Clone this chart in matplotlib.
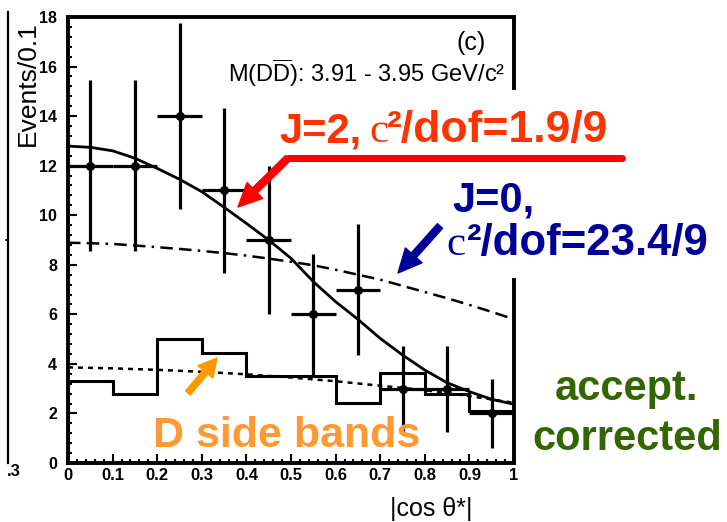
import numpy as np
import matplotlib
matplotlib.use("Agg")
import matplotlib.pyplot as plt
from matplotlib.ticker import MultipleLocator
from matplotlib.lines import Line2D

plt.rcParams['font.family'] = ['Liberation Sans', 'DejaVu Sans']
plt.rcParams['mathtext.fontset'] = 'custom'
plt.rcParams['mathtext.rm'] = 'Liberation Sans'
plt.rcParams['mathtext.it'] = 'Liberation Sans:italic'
plt.rcParams['mathtext.bf'] = 'Liberation Sans:bold'

# data
bin_centers = [0.05, 0.15, 0.25, 0.35, 0.45, 0.55, 0.65, 0.75, 0.85, 0.95]
bin_half = [0.05] * 10
events = [12, 12, 14, 11, 9, 6, 7, 3, 3, 2]
event_err = [3.46, 3.46, 3.74, 3.32, 3.0, 2.45, 2.65, 1.73, 1.73, 1.41]

bin_edges = [0, 0.1, 0.2, 0.3, 0.4, 0.5, 0.6, 0.7, 0.8, 0.9, 1.0]
sideband = [3.3, 2.77, 5.0, 4.43, 3.5, 3.5, 2.43, 3.62, 2.8, 2.1]

curve_x = [0, 0.05, 0.1, 0.15, 0.2, 0.25, 0.3, 0.35, 0.4, 0.45, 0.5,
           0.55, 0.6, 0.65, 0.7, 0.75, 0.8, 0.85, 0.9, 0.95, 1.0]
fit_j2 = [12.79, 12.74, 12.6, 12.3, 11.89, 11.45, 10.95, 10.32, 9.67, 9.0, 8.26,
          7.32, 6.51, 5.8, 5.03, 4.36, 3.75, 3.24, 2.88, 2.57, 2.37]
fit_j0 = [8.89, 8.87, 8.84, 8.78, 8.71, 8.64, 8.56, 8.47, 8.37, 8.25, 8.12,
          7.98, 7.8, 7.6, 7.4, 7.15, 6.9, 6.65, 6.38, 6.1, 5.8]
bg_x = [0, 0.1, 0.2, 0.3, 0.4, 0.5, 0.6, 0.7, 0.8, 0.9, 1.0]
fit_bg = [3.86, 3.82, 3.76, 3.68, 3.58, 3.45, 3.3, 3.12, 2.94, 2.7, 2.43]

x_ticks = [0, 0.1, 0.2, 0.3, 0.4, 0.5, 0.6, 0.7, 0.8, 0.9, 1.0]
x_ticklabels = ['0', '0.1', '0.2', '0.3', '0.4', '0.5', '0.6', '0.7', '0.8', '0.9', '1']
y_ticks = [0, 2, 4, 6, 8, 10, 12, 14, 16, 18]

W, H = 727, 522


def fx(x):
    return x / W


def fy(y):
    return 1 - y / H


fig = plt.figure(figsize=(W / 100, H / 100), dpi=100)
ax = fig.add_axes([fx(68), fy(463), 446 / W, 446 / H])

ax.stairs(sideband, bin_edges, color='black', lw=2.2)
ax.plot(bg_x, fit_bg, color='black', lw=1.8, ls=(0, (2, 2)))
ax.plot(curve_x, fit_j0, color='black', lw=1.8, ls=(0, (5, 2.5, 5, 2.5, 1, 2.5)))
ax.plot(curve_x, fit_j2, color='black', lw=2.0)
ax.errorbar(bin_centers, events, xerr=bin_half, yerr=event_err, fmt='o',
            ms=5.5, color='black', elinewidth=2.3, capsize=0)

ax.set_xlim(0, 1)
ax.set_ylim(0, 18)
ax.set_xticks(x_ticks)
ax.set_xticklabels(x_ticklabels)
ax.set_yticks(y_ticks)
ax.xaxis.set_minor_locator(MultipleLocator(0.02))
ax.yaxis.set_minor_locator(MultipleLocator(0.4))
ax.tick_params(which='both', direction='in', top=False, right=False, width=1.5)
ax.tick_params(which='major', length=6.5)
ax.tick_params(which='minor', length=3.2)
ax.tick_params(axis='y', pad=8, labelsize=11.5)
ax.tick_params(axis='x', pad=3.5, labelsize=12)
for lab in ax.get_xticklabels() + ax.get_yticklabels():
    lab.set_fontweight('bold')

for s in ['left', 'bottom', 'top']:
    ax.spines[s].set_linewidth(2.8)
ax.spines['right'].set_visible(False)
# right frame is partly hidden behind the labels
ax.plot([1, 1], [0, (463 - 280) / 446], transform=ax.transAxes, color='black',
        lw=2.8, clip_on=False, solid_capstyle='projecting')
ax.plot([1, 1], [(463 - 88) / 446, 1], transform=ax.transAxes, color='black',
        lw=2.8, clip_on=False, solid_capstyle='projecting')

# axis labels
fig.text(fx(40), fy(84), 'Events/0.1', rotation=90, fontsize=19, ha='right', va='center')
fig.text(fx(431), fy(516), '|cos θ*|', fontsize=18, ha='center', va='baseline')

# stray frame line at far left
fig.add_artist(Line2D([fx(8), fx(8)], [fy(12), fy(463)], color='black', lw=1.6))
fig.add_artist(Line2D([fx(6), fx(8)], [fy(240), fy(240)], color='black', lw=1.2))
fig.text(fx(7), fy(476), '.3', fontsize=12, fontweight='bold', va='baseline')

fig.text(fx(471), fy(50), '(c)', fontsize=18, ha='center', va='baseline')
fig.text(fx(505), fy(82), r'M(D$\overline{\mathrm{D}}$): 3.91 - 3.95 GeV/c²',
         fontsize=17, ha='right', va='baseline')

# red J=2 label
red_txt = '#ff3300'
fig.text(fx(279), fy(142), 'J=2,', fontsize=30, fontweight='bold', color=red_txt, va='baseline')
fig.text(fx(369), fy(142), 'c', fontsize=31, family='Liberation Serif', color=red_txt, va='baseline')
fig.text(fx(387), fy(142), '²/dof=1.9/9', fontsize=32, fontweight='bold', color=red_txt, va='baseline')
fig.add_artist(Line2D([fx(622), fx(288)], [fy(158), fy(158)], color='#ff0000', lw=5,
                      solid_capstyle='round'))
ax.annotate('', xy=(238, H - 207), xytext=(288, H - 158), xycoords='figure pixels',
            textcoords='figure pixels',
            arrowprops=dict(width=5, headwidth=16, headlength=17, color='#ff0000', shrink=0))

# blue J=0 label
blue = '#000099'
fig.text(fx(452), fy(212), 'J=0,', fontsize=30, fontweight='bold', color=blue, va='baseline')
fig.text(fx(446), fy(255), 'c', fontsize=31, family='Liberation Serif', color=blue, va='baseline')
fig.text(fx(467), fy(255), '²/dof=23.4/9', fontsize=31.5, fontweight='bold', color=blue, va='baseline')
ax.annotate('', xy=(398, H - 273), xytext=(440, H - 226), xycoords='figure pixels',
            textcoords='figure pixels',
            arrowprops=dict(width=5, headwidth=16, headlength=17, color=blue, shrink=0))

# orange side band label
fig.text(fx(153), fy(447), 'D side bands', fontsize=31, fontweight='bold', color='#ff9933', va='baseline')
ax.annotate('', xy=(217, H - 358), xytext=(188, H - 393), xycoords='figure pixels',
            textcoords='figure pixels',
            arrowprops=dict(width=4.5, headwidth=14, headlength=13, color='#ff9900', shrink=0))

# green note
green = '#336600'
fig.text(fx(627), fy(400), 'accept.', fontsize=30, fontweight='bold', color=green, ha='center', va='baseline')
fig.text(fx(627), fy(450), 'corrected', fontsize=30, fontweight='bold', color=green, ha='center', va='baseline')

fig.savefig('out.png', dpi=100)
